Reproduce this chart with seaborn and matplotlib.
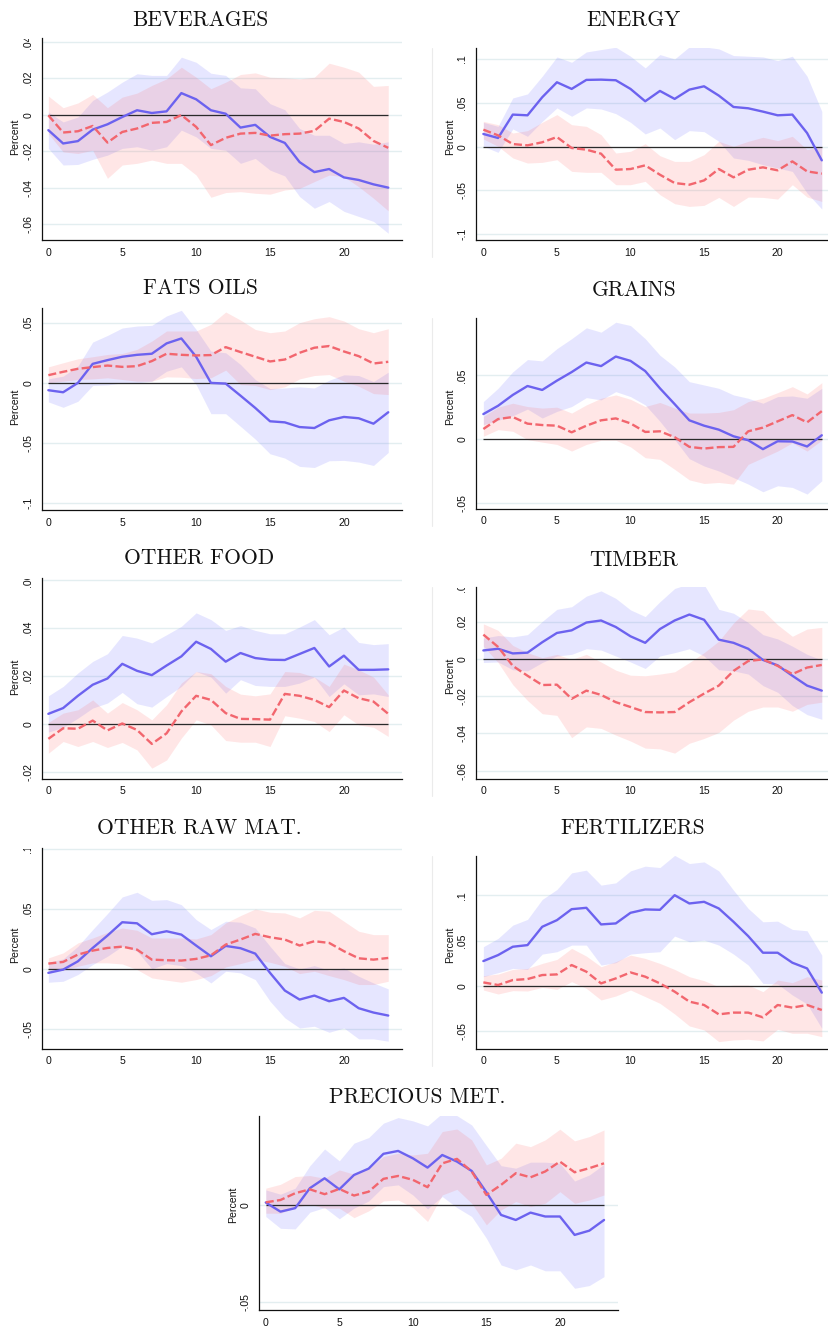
import matplotlib
matplotlib.use("Agg")
import matplotlib.pyplot as plt
import seaborn as sns
from matplotlib.transforms import Bbox, TransformedBbox
from matplotlib.lines import Line2D

# ---------------------------------------------------------------- data
HORIZON = list(range(24))
X_TICKS = [0, 5, 10, 15, 20]

# Beverages
bev_solid = [-0.0085, -0.0158, -0.0145, -0.0082, -0.0053, -0.0013, 0.0024, 0.0009, 0.0018, 0.0118, 0.0084, 0.0024,
             0.0005, -0.0071, -0.0056, -0.0122, -0.0155, -0.0260, -0.0315, -0.0298, -0.0344, -0.0358, -0.0382, -0.0400]
bev_solid_hi = [0.0015, -0.0040, -0.0013, 0.0078, 0.0124, 0.0178, 0.0224, 0.0215, 0.0215, 0.0315, 0.0287, 0.0227,
                0.0215, 0.0147, 0.0142, 0.0060, 0.0027, -0.0076, -0.0113, -0.0113, -0.0158, -0.0149, -0.0162, -0.0149]
bev_solid_lo = [-0.0185, -0.0276, -0.0273, -0.0245, -0.0222, -0.0185, -0.0176, -0.0195, -0.0176, -0.0085, -0.0122, -0.0185,
                -0.0195, -0.0267, -0.0240, -0.0304, -0.0336, -0.0449, -0.0513, -0.0476, -0.0530, -0.0558, -0.0585, -0.0650]
bev_dash = [-0.0004, -0.0098, -0.0091, -0.0062, -0.0153, -0.0095, -0.0076, -0.0045, -0.0040, -0.0002, -0.0067, -0.0167,
            -0.0127, -0.0104, -0.0100, -0.0115, -0.0107, -0.0104, -0.0089, -0.0022, -0.0040, -0.0076, -0.0144, -0.0182]
bev_dash_hi = [0.0102, 0.0038, 0.0064, 0.0111, 0.0038, 0.0096, 0.0118, 0.0160, 0.0196, 0.0260, 0.0205, 0.0142,
               0.0178, 0.0220, 0.0229, 0.0205, 0.0202, 0.0196, 0.0205, 0.0282, 0.0260, 0.0233, 0.0155, 0.0160]
bev_dash_lo = [-0.0104, -0.0204, -0.0213, -0.0195, -0.0349, -0.0276, -0.0267, -0.0249, -0.0267, -0.0267, -0.0331, -0.0453,
               -0.0427, -0.0422, -0.0431, -0.0436, -0.0413, -0.0404, -0.0367, -0.0331, -0.0340, -0.0395, -0.0458, -0.0527]

# Energy
ene_solid = [0.0145, 0.0099, 0.0366, 0.0358, 0.0564, 0.0735, 0.0659, 0.0762, 0.0765, 0.0758, 0.0659, 0.0518,
             0.0636, 0.0545, 0.0651, 0.0689, 0.0583, 0.0453, 0.0438, 0.0400, 0.0358, 0.0366, 0.0156, -0.0156]
ene_solid_hi = [0.0278, 0.0232, 0.0556, 0.0602, 0.0804, 0.1024, 0.0963, 0.1081, 0.1108, 0.1135, 0.1032, 0.0899,
                0.1051, 0.1001, 0.1139, 0.1139, 0.1116, 0.1040, 0.1032, 0.1024, 0.0982, 0.1032, 0.0804, 0.0404]
ene_solid_lo = [0.0004, -0.0065, 0.0202, 0.0118, 0.0289, 0.0442, 0.0347, 0.0442, 0.0430, 0.0377, 0.0278, 0.0145,
                0.0213, 0.0080, 0.0183, 0.0171, 0.0061, -0.0129, -0.0156, -0.0206, -0.0244, -0.0282, -0.0529, -0.0712]
ene_dash = [0.0194, 0.0129, 0.0030, 0.0015, 0.0050, 0.0110, -0.0015, -0.0034, -0.0080, -0.0263, -0.0255, -0.0213,
            -0.0320, -0.0415, -0.0434, -0.0385, -0.0255, -0.0350, -0.0263, -0.0236, -0.0270, -0.0168, -0.0282, -0.0308]
ene_dash_hi = [0.0289, 0.0251, 0.0156, 0.0183, 0.0278, 0.0366, 0.0251, 0.0232, 0.0137, -0.0072, -0.0053, 0.0034,
               -0.0103, -0.0168, -0.0168, -0.0091, 0.0061, 0.0004, 0.0061, 0.0107, 0.0069, 0.0118, -0.0034, 0.0004]
ene_dash_lo = [0.0088, 0.0004, -0.0129, -0.0187, -0.0179, -0.0149, -0.0282, -0.0293, -0.0293, -0.0434, -0.0434, -0.0396,
               -0.0548, -0.0651, -0.0682, -0.0670, -0.0579, -0.0682, -0.0575, -0.0579, -0.0598, -0.0434, -0.0575, -0.0625]

# Fats & oils
fat_solid = [-0.0061, -0.0078, 0.0000, 0.0158, 0.0189, 0.0217, 0.0233, 0.0242, 0.0328, 0.0369, 0.0217, 0.0000,
             -0.0006, -0.0106, -0.0208, -0.0319, -0.0328, -0.0367, -0.0375, -0.0311, -0.0283, -0.0294, -0.0339, -0.0244]
fat_solid_hi = [0.0033, 0.0056, 0.0139, 0.0339, 0.0394, 0.0456, 0.0472, 0.0478, 0.0556, 0.0603, 0.0444, 0.0264,
                0.0250, 0.0153, 0.0028, -0.0047, -0.0042, -0.0033, -0.0042, 0.0022, 0.0067, 0.0061, 0.0011, 0.0089]
fat_solid_lo = [-0.0158, -0.0203, -0.0153, -0.0022, -0.0017, 0.0000, 0.0000, 0.0014, 0.0097, 0.0133, -0.0014, -0.0256,
                -0.0256, -0.0361, -0.0467, -0.0589, -0.0625, -0.0694, -0.0703, -0.0647, -0.0644, -0.0658, -0.0686, -0.0578]
fat_dash = [0.0064, 0.0092, 0.0117, 0.0131, 0.0144, 0.0133, 0.0139, 0.0181, 0.0242, 0.0233, 0.0228, 0.0231,
            0.0297, 0.0256, 0.0217, 0.0178, 0.0194, 0.0250, 0.0292, 0.0306, 0.0261, 0.0222, 0.0161, 0.0175]
fat_dash_hi = [0.0133, 0.0167, 0.0200, 0.0217, 0.0236, 0.0244, 0.0278, 0.0347, 0.0431, 0.0431, 0.0431, 0.0486,
               0.0589, 0.0522, 0.0444, 0.0417, 0.0431, 0.0500, 0.0533, 0.0550, 0.0514, 0.0450, 0.0417, 0.0450]
fat_dash_lo = [0.0000, 0.0014, 0.0028, 0.0033, 0.0042, 0.0028, 0.0014, 0.0014, 0.0050, 0.0047, 0.0036, 0.0042,
               0.0106, -0.0014, -0.0022, -0.0056, -0.0033, 0.0033, 0.0061, 0.0069, 0.0014, -0.0028, -0.0089, -0.0097]

# Grains
gra_solid = [0.0197, 0.0262, 0.0347, 0.0417, 0.0386, 0.0459, 0.0526, 0.0601, 0.0573, 0.0648, 0.0614, 0.0534,
             0.0399, 0.0275, 0.0148, 0.0106, 0.0075, 0.0023, -0.0008, -0.0078, -0.0016, -0.0018, -0.0057, 0.0031]
gra_solid_hi = [0.0295, 0.0399, 0.0528, 0.0624, 0.0614, 0.0710, 0.0788, 0.0873, 0.0839, 0.0917, 0.0891, 0.0788,
                0.0658, 0.0567, 0.0451, 0.0425, 0.0399, 0.0347, 0.0321, 0.0282, 0.0334, 0.0339, 0.0321, 0.0399]
gra_solid_lo = [0.0114, 0.0148, 0.0184, 0.0236, 0.0166, 0.0218, 0.0256, 0.0326, 0.0308, 0.0373, 0.0334, 0.0269,
                0.0140, -0.0003, -0.0153, -0.0210, -0.0249, -0.0301, -0.0352, -0.0412, -0.0365, -0.0378, -0.0430, -0.0326]
gra_dash = [0.0080, 0.0158, 0.0174, 0.0122, 0.0111, 0.0106, 0.0054, 0.0106, 0.0148, 0.0163, 0.0124, 0.0057,
            0.0062, 0.0016, -0.0060, -0.0073, -0.0062, -0.0060, 0.0062, 0.0091, 0.0140, 0.0189, 0.0132, 0.0220]
gra_dash_hi = [0.0179, 0.0251, 0.0282, 0.0256, 0.0244, 0.0251, 0.0205, 0.0269, 0.0321, 0.0347, 0.0313, 0.0256,
               0.0288, 0.0244, 0.0205, 0.0205, 0.0210, 0.0231, 0.0295, 0.0321, 0.0365, 0.0412, 0.0355, 0.0443]
gra_dash_lo = [0.0023, 0.0075, 0.0062, -0.0003, -0.0023, -0.0041, -0.0093, -0.0041, -0.0008, -0.0008, -0.0060, -0.0145,
               -0.0158, -0.0236, -0.0319, -0.0347, -0.0339, -0.0352, -0.0197, -0.0145, -0.0093, -0.0028, -0.0093, -0.0008]

# Other food
ofo_solid = [0.0043, 0.0067, 0.0118, 0.0164, 0.0190, 0.0251, 0.0222, 0.0204, 0.0244, 0.0282, 0.0343, 0.0313,
             0.0260, 0.0296, 0.0275, 0.0268, 0.0267, 0.0292, 0.0317, 0.0240, 0.0285, 0.0226, 0.0226, 0.0228]
ofo_solid_hi = [0.0118, 0.0157, 0.0213, 0.0261, 0.0293, 0.0369, 0.0358, 0.0338, 0.0372, 0.0407, 0.0463, 0.0435,
                0.0390, 0.0410, 0.0390, 0.0376, 0.0376, 0.0404, 0.0435, 0.0372, 0.0404, 0.0340, 0.0331, 0.0335]
ofo_solid_lo = [-0.0033, -0.0013, 0.0025, 0.0067, 0.0088, 0.0132, 0.0085, 0.0071, 0.0115, 0.0157, 0.0219, 0.0196,
                0.0129, 0.0185, 0.0161, 0.0157, 0.0157, 0.0171, 0.0196, 0.0115, 0.0168, 0.0122, 0.0126, 0.0115]
ofo_dash = [-0.0061, -0.0017, -0.0019, 0.0015, -0.0026, 0.0003, -0.0024, -0.0082, -0.0038, 0.0053, 0.0118, 0.0101,
            0.0046, 0.0022, 0.0021, 0.0019, 0.0126, 0.0118, 0.0101, 0.0071, 0.0140, 0.0108, 0.0094, 0.0043]
ofo_dash_hi = [0.0007, 0.0046, 0.0060, 0.0101, 0.0046, 0.0090, 0.0060, 0.0018, 0.0081, 0.0171, 0.0219, 0.0210,
               0.0157, 0.0125, 0.0118, 0.0126, 0.0219, 0.0215, 0.0196, 0.0157, 0.0250, 0.0226, 0.0196, 0.0122]
ofo_dash_lo = [-0.0121, -0.0072, -0.0093, -0.0072, -0.0097, -0.0076, -0.0107, -0.0183, -0.0149, -0.0058, 0.0018, -0.0003,
               -0.0068, -0.0075, -0.0075, -0.0093, 0.0035, 0.0025, 0.0011, -0.0031, 0.0039, -0.0003, -0.0013, -0.0051]

# Timber
tim_solid = [0.0046, 0.0055, 0.0030, 0.0034, 0.0090, 0.0140, 0.0154, 0.0196, 0.0207, 0.0172, 0.0122, 0.0087,
             0.0161, 0.0207, 0.0239, 0.0211, 0.0104, 0.0087, 0.0055, -0.0005, -0.0034, -0.0090, -0.0143, -0.0170]
tim_solid_hi = [0.0113, 0.0126, 0.0119, 0.0131, 0.0202, 0.0267, 0.0281, 0.0338, 0.0366, 0.0326, 0.0264, 0.0228,
                0.0308, 0.0379, 0.0405, 0.0400, 0.0267, 0.0246, 0.0196, 0.0131, 0.0108, 0.0069, 0.0025, -0.0005]
tim_solid_lo = [-0.0019, -0.0016, -0.0058, -0.0064, -0.0019, 0.0016, 0.0025, 0.0055, 0.0048, 0.0016, -0.0016, -0.0051,
                0.0016, 0.0034, 0.0055, 0.0016, -0.0058, -0.0064, -0.0081, -0.0143, -0.0179, -0.0250, -0.0299, -0.0324]
tim_dash = [0.0131, 0.0065, -0.0037, -0.0090, -0.0140, -0.0138, -0.0214, -0.0170, -0.0193, -0.0232, -0.0258, -0.0285,
            -0.0287, -0.0285, -0.0232, -0.0186, -0.0143, -0.0064, -0.0011, -0.0002, -0.0037, -0.0081, -0.0046, -0.0032]
tim_dash_hi = [0.0189, 0.0154, 0.0073, 0.0034, 0.0007, 0.0025, -0.0002, 0.0025, -0.0016, -0.0060, -0.0087, -0.0090,
               -0.0081, -0.0069, -0.0019, 0.0034, 0.0096, 0.0193, 0.0269, 0.0260, 0.0184, 0.0122, 0.0161, 0.0170]
tim_dash_lo = [0.0069, -0.0019, -0.0138, -0.0223, -0.0294, -0.0303, -0.0423, -0.0365, -0.0373, -0.0409, -0.0441, -0.0479,
               -0.0483, -0.0506, -0.0453, -0.0427, -0.0395, -0.0329, -0.0281, -0.0258, -0.0258, -0.0281, -0.0244, -0.0232]

# Other raw materials
raw_solid = [-0.0030, -0.0003, 0.0066, 0.0177, 0.0280, 0.0391, 0.0382, 0.0291, 0.0316, 0.0288, 0.0197, 0.0108,
             0.0194, 0.0175, 0.0130, -0.0030, -0.0177, -0.0252, -0.0219, -0.0266, -0.0238, -0.0324, -0.0360, -0.0385]
raw_solid_hi = [0.0058, 0.0086, 0.0191, 0.0330, 0.0463, 0.0601, 0.0640, 0.0573, 0.0579, 0.0537, 0.0413, 0.0330,
                0.0399, 0.0391, 0.0343, 0.0191, 0.0047, 0.0003, 0.0030, -0.0008, 0.0011, -0.0058, -0.0114, -0.0163]
raw_solid_lo = [-0.0108, -0.0100, -0.0044, 0.0039, 0.0108, 0.0191, 0.0150, 0.0003, 0.0047, 0.0030, -0.0030, -0.0114,
                -0.0017, -0.0030, -0.0086, -0.0266, -0.0404, -0.0488, -0.0474, -0.0524, -0.0488, -0.0579, -0.0579, -0.0598]
raw_dash = [0.0047, 0.0061, 0.0122, 0.0155, 0.0177, 0.0188, 0.0163, 0.0080, 0.0075, 0.0072, 0.0086, 0.0116,
            0.0205, 0.0247, 0.0294, 0.0266, 0.0247, 0.0197, 0.0233, 0.0219, 0.0150, 0.0091, 0.0080, 0.0094]
raw_dash_hi = [0.0094, 0.0136, 0.0219, 0.0260, 0.0307, 0.0343, 0.0324, 0.0260, 0.0260, 0.0260, 0.0252, 0.0288,
               0.0385, 0.0446, 0.0501, 0.0474, 0.0468, 0.0427, 0.0490, 0.0482, 0.0399, 0.0316, 0.0288, 0.0288]
raw_dash_lo = [-0.0003, -0.0008, 0.0025, 0.0053, 0.0053, 0.0044, -0.0003, -0.0072, -0.0091, -0.0108, -0.0086, -0.0053,
               0.0019, 0.0047, 0.0080, 0.0058, 0.0025, -0.0036, -0.0017, -0.0053, -0.0086, -0.0127, -0.0127, -0.0100]

# Fertilizers
fer_solid = [0.0275, 0.0341, 0.0433, 0.0451, 0.0653, 0.0726, 0.0847, 0.0862, 0.0679, 0.0690, 0.0807, 0.0844,
             0.0840, 0.1001, 0.0910, 0.0928, 0.0855, 0.0708, 0.0550, 0.0367, 0.0367, 0.0257, 0.0194, -0.0073]
fer_solid_hi = [0.0433, 0.0525, 0.0671, 0.0734, 0.0954, 0.1064, 0.1247, 0.1277, 0.1112, 0.1137, 0.1269, 0.1321,
                0.1306, 0.1440, 0.1350, 0.1368, 0.1269, 0.1056, 0.0855, 0.0708, 0.0715, 0.0624, 0.0609, 0.0341]
fer_solid_lo = [0.0103, 0.0147, 0.0194, 0.0183, 0.0352, 0.0378, 0.0451, 0.0451, 0.0231, 0.0257, 0.0352, 0.0367,
                0.0378, 0.0550, 0.0488, 0.0506, 0.0451, 0.0352, 0.0231, 0.0029, 0.0022, -0.0099, -0.0198, -0.0466]
fer_dash = [0.0040, 0.0011, 0.0066, 0.0077, 0.0121, 0.0128, 0.0231, 0.0158, 0.0029, 0.0084, 0.0150, 0.0103,
            0.0029, -0.0062, -0.0172, -0.0209, -0.0312, -0.0293, -0.0293, -0.0345, -0.0209, -0.0238, -0.0209, -0.0264]
fer_dash_hi = [0.0114, 0.0132, 0.0183, 0.0194, 0.0249, 0.0293, 0.0415, 0.0330, 0.0213, 0.0268, 0.0341, 0.0304,
               0.0249, 0.0183, 0.0103, 0.0059, -0.0007, 0.0011, 0.0011, -0.0062, 0.0066, 0.0037, 0.0103, 0.0066]
fer_dash_lo = [-0.0044, -0.0088, -0.0051, -0.0055, -0.0015, -0.0037, 0.0048, -0.0026, -0.0154, -0.0110, -0.0044, -0.0117,
               -0.0191, -0.0308, -0.0440, -0.0484, -0.0613, -0.0594, -0.0587, -0.0605, -0.0477, -0.0521, -0.0521, -0.0558]

# Precious metals
pre_solid = [0.0014, -0.0033, -0.0015, 0.0088, 0.0139, 0.0082, 0.0156, 0.0189, 0.0265, 0.0280, 0.0242, 0.0194,
             0.0259, 0.0225, 0.0177, 0.0067, -0.0050, -0.0076, -0.0038, -0.0058, -0.0058, -0.0153, -0.0131, -0.0076]
pre_solid_hi = [0.0079, 0.0057, 0.0088, 0.0204, 0.0290, 0.0229, 0.0320, 0.0349, 0.0423, 0.0452, 0.0435, 0.0409,
                0.0474, 0.0462, 0.0414, 0.0308, 0.0204, 0.0191, 0.0222, 0.0222, 0.0216, 0.0125, 0.0156, 0.0211]
pre_solid_lo = [-0.0058, -0.0119, -0.0122, -0.0036, -0.0012, -0.0070, -0.0015, 0.0022, 0.0096, 0.0105, 0.0053, -0.0019,
                0.0045, -0.0012, -0.0058, -0.0170, -0.0308, -0.0333, -0.0308, -0.0338, -0.0338, -0.0428, -0.0414, -0.0368]
pre_dash = [0.0015, 0.0027, 0.0062, 0.0082, 0.0057, 0.0084, 0.0050, 0.0070, 0.0136, 0.0151, 0.0131, 0.0093,
            0.0216, 0.0239, 0.0174, 0.0053, 0.0105, 0.0165, 0.0144, 0.0174, 0.0225, 0.0170, 0.0191, 0.0216]
pre_dash_hi = [0.0088, 0.0108, 0.0148, 0.0153, 0.0139, 0.0182, 0.0160, 0.0191, 0.0251, 0.0268, 0.0259, 0.0268,
               0.0380, 0.0393, 0.0337, 0.0208, 0.0242, 0.0320, 0.0302, 0.0337, 0.0392, 0.0332, 0.0354, 0.0388]
pre_dash_lo = [-0.0041, -0.0041, -0.0012, 0.0005, -0.0015, -0.0015, -0.0064, -0.0029, 0.0022, 0.0027, -0.0012, -0.0084,
               0.0053, 0.0082, 0.0010, -0.0101, -0.0024, 0.0019, -0.0007, 0.0010, 0.0070, 0.0010, 0.0027, 0.0053]

TITLES = ["BEVERAGES", "ENERGY", "FATS OILS", "GRAINS", "OTHER FOOD",
          "TIMBER", "OTHER RAW MAT.", "FERTILIZERS", "PRECIOUS MET."]
Y_TICKS = [
    [-0.06, -0.04, -0.02, 0.0, 0.02, 0.04],
    [-0.1, -0.05, 0.0, 0.05, 0.1],
    [-0.1, -0.05, 0.0, 0.05],
    [-0.05, 0.0, 0.05],
    [-0.02, 0.0, 0.02, 0.04, 0.06],
    [-0.06, -0.04, -0.02, 0.0, 0.02],
    [-0.05, 0.0, 0.05, 0.1],
    [-0.05, 0.0, 0.05, 0.1],
    [-0.05, 0.0],
]
Y_LIMITS = [(-0.0687, 0.042), (-0.1065, 0.1126), (-0.1056, 0.0622), (-0.0547, 0.095), (-0.0228, 0.0608),
            (-0.0645, 0.0387), (-0.0663, 0.1008), (-0.0694, 0.1433), (-0.054, 0.046)]

SERIES = [
    (bev_solid, bev_solid_lo, bev_solid_hi, bev_dash, bev_dash_lo, bev_dash_hi),
    (ene_solid, ene_solid_lo, ene_solid_hi, ene_dash, ene_dash_lo, ene_dash_hi),
    (fat_solid, fat_solid_lo, fat_solid_hi, fat_dash, fat_dash_lo, fat_dash_hi),
    (gra_solid, gra_solid_lo, gra_solid_hi, gra_dash, gra_dash_lo, gra_dash_hi),
    (ofo_solid, ofo_solid_lo, ofo_solid_hi, ofo_dash, ofo_dash_lo, ofo_dash_hi),
    (tim_solid, tim_solid_lo, tim_solid_hi, tim_dash, tim_dash_lo, tim_dash_hi),
    (raw_solid, raw_solid_lo, raw_solid_hi, raw_dash, raw_dash_lo, raw_dash_hi),
    (fer_solid, fer_solid_lo, fer_solid_hi, fer_dash, fer_dash_lo, fer_dash_hi),
    (pre_solid, pre_solid_lo, pre_solid_hi, pre_dash, pre_dash_lo, pre_dash_hi),
]

# ---------------------------------------------------------------- style
BLUE = "#6c62ef"
RED = "#f2666e"
BLUE_BAND = "#5c5cff"
RED_BAND = "#ff5c5c"
BAND_ALPHA = 0.15
GRID = "#e3eef0"

sns.set_style("white")
plt.rcParams["font.family"] = ["Liberation Sans", "DejaVu Sans"]
TICK_SIZE = 7.6
TITLE_FONT = "cmr10"

W, H = 829, 1326
fig = plt.figure(figsize=(W / 100, H / 100), dpi=100)

# panel frames in pixels: left, top, right, bottom, x-lower, x-upper
FRAMES = [
    (42, 38, 402, 240, -0.43, 23.93),
    (476, 48, 829, 240, -0.50, 23.49),
    (42, 308, 402, 510, -0.43, 23.93),
    (476, 318, 829, 509, -0.50, 23.49),
    (42, 578, 402, 779, -0.43, 23.93),
    (476, 587, 829, 779, -0.50, 23.49),
    (42, 848, 402, 1049, -0.43, 23.93),
    (476, 856, 829, 1049, -0.50, 23.49),
    (259, 1116, 618, 1310, -0.46, 23.95),
]
# title centre (x, y) and y-label centre (x, y) in pixels
TITLE_POS = [(200, 20), (633, 20), (200, 288), (634, 290), (199, 558),
             (634, 560), (199, 828), (633, 828), (417, 1097)]
YLAB_POS = [(15, 137), (450, 137), (15, 407), (450, 407), (15, 677),
            (450, 676), (15, 945), (450, 945), (233, 1205)]
# tick values sitting just above the frame whose labels peek in
PEEK_TICKS = {5: [0.04]}


def stata_label(v):
    if abs(v) < 1e-12:
        return "0"
    s = f"{v:.2f}".rstrip("0")
    return s.replace("0.", ".")


axes = []
for i, (l, t, r, b, x0, x1) in enumerate(FRAMES):
    ax = fig.add_axes([l / W, 1 - b / H, (r - l) / W, (b - t) / H])
    axes.append(ax)
    solid, solid_lo, solid_hi, dash, dash_lo, dash_hi = SERIES[i]

    ax.fill_between(HORIZON, solid_lo, solid_hi, color=BLUE_BAND, alpha=BAND_ALPHA, linewidth=0, zorder=1)
    ax.fill_between(HORIZON, dash_lo, dash_hi, color=RED_BAND, alpha=BAND_ALPHA, linewidth=0, zorder=1)
    ax.hlines(0, HORIZON[0], HORIZON[-1], color="#2a2a2a", linewidth=0.9, zorder=2)
    sns.lineplot(x=HORIZON, y=solid, ax=ax, color=BLUE, linewidth=1.7, zorder=4)
    sns.lineplot(x=HORIZON, y=dash, ax=ax, color=RED, linewidth=1.7, linestyle=(0, (3.4, 1.4)), zorder=4)

    ax.set_xlim(x0, x1)
    ax.set_ylim(*Y_LIMITS[i])
    ax.set_xticks(X_TICKS)
    ax.set_xticklabels([str(v) for v in X_TICKS])
    ax.set_yticks(Y_TICKS[i])
    ax.set_yticklabels([stata_label(v) for v in Y_TICKS[i]])
    ax.yaxis.grid(True, color=GRID, linewidth=1.0)
    ax.xaxis.grid(False)
    ax.set_axisbelow(True)

    for side in ("top", "right"):
        ax.spines[side].set_visible(False)
    for side in ("left", "bottom"):
        ax.spines[side].set_color("#111111")
        ax.spines[side].set_linewidth(0.9)

    ax.tick_params(axis="both", direction="out", length=3.2, width=0.8, color="#111111",
                   labelsize=TICK_SIZE, labelcolor="#111111")
    ax.tick_params(axis="y", pad=3.0, labelrotation=90)
    ax.tick_params(axis="x", pad=2.2)

    ax.set_ylabel("Percent", fontsize=TICK_SIZE, color="#111111", va="center")
    yx, yy = YLAB_POS[i]
    ax.yaxis.set_label_coords((yx - l) / (r - l), (b - yy) / (b - t))

    tx, ty = TITLE_POS[i]
    ax.set_title(TITLES[i], fontfamily=TITLE_FONT, fontsize=15.5, color="#111111",
                 x=(tx - l) / (r - l), y=(b - ty) / (b - t), va="center", pad=0)

    if l > 400:
        fig.add_artist(Line2D([432 / W, 432 / W], [1 - t / H, 1 - (b + 17) / H],
                              color="#ebebeb", linewidth=0.8))

fig.canvas.draw()

# rotated y labels: centre them on the tick and clip them at the top of the frame
for i, ax in enumerate(axes):
    l, t, r, b = FRAMES[i][:4]
    clip = TransformedBbox(Bbox.from_extents(0, 0, 1, 1 - (t + 1) / H), fig.transFigure)
    labels = ax.get_yticklabels()
    for lab in labels:
        lab.set_va("center")
        lab.set_clip_box(clip)
        lab.set_clip_on(True)
    for v in PEEK_TICKS.get(i, []):
        ref = labels[0]
        extra = ax.text(ref.get_position()[0], v, stata_label(v), transform=ref.get_transform(),
                        rotation=90, ha="right", va="center", fontsize=TICK_SIZE, color="#111111",
                        clip_on=True)
        extra.set_clip_box(clip)

fig.savefig("out.png", dpi=100)
